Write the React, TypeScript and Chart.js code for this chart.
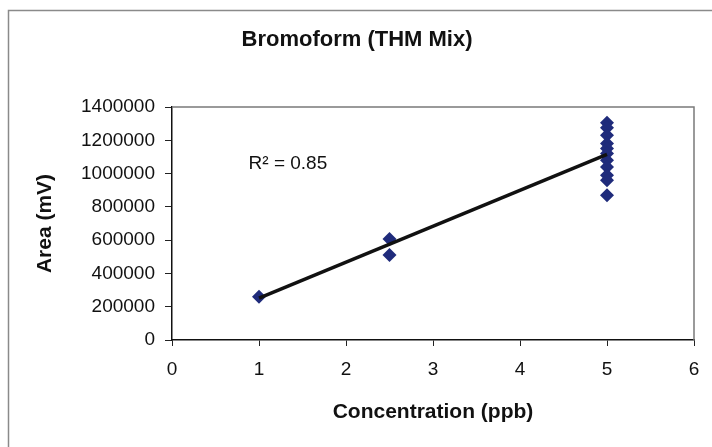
import React, { useEffect, useRef } from "react";
import { Chart, registerables } from "chart.js";

Chart.register(...registerables);

const chartTitle = "Bromoform (THM Mix)";
const xAxisTitle = "Concentration (ppb)";
const yAxisTitle = "Area (mV)";
const r2Label = "R² = 0.85";

const concentration = [1, 2.5, 2.5, 5, 5, 5, 5, 5, 5, 5, 5, 5, 5, 5];
const area = [
  260000, 607000, 510000, 1305000, 1275000, 1230000, 1180000, 1150000,
  1120000, 1080000, 1040000, 990000, 960000, 870000,
];
const trendX = [1, 5];
const trendY = [252000, 1115000];

const FONT = "'Liberation Sans', Arial, sans-serif";

export default function App() {
  const ref = useRef<HTMLCanvasElement | null>(null);

  useEffect(() => {
    if (!ref.current) return;
    const decor = {
      id: "decor",
      beforeDatasetsDraw(chart: any) {
        const { ctx, chartArea } = chart;
        ctx.save();
        ctx.strokeStyle = "#8a8a8a";
        ctx.lineWidth = 1.5;
        ctx.beginPath();
        ctx.moveTo(8.5, 447);
        ctx.lineTo(8.5, 10.5);
        ctx.lineTo(712, 10.5);
        ctx.stroke();
        ctx.strokeStyle = "#7a7a7a";
        ctx.lineWidth = 1.5;
        ctx.beginPath();
        ctx.moveTo(chartArea.left, chartArea.top);
        ctx.lineTo(chartArea.right, chartArea.top);
        ctx.lineTo(chartArea.right, chartArea.bottom);
        ctx.stroke();
        ctx.restore();
      },
      afterDraw(chart: any) {
        const { ctx, chartArea, scales } = chart;
        ctx.save();
        ctx.fillStyle = "#111";
        ctx.textAlign = "center";
        ctx.textBaseline = "middle";
        ctx.font = `bold 22px ${FONT}`;
        ctx.fillText(chartTitle, 357, 40);
        ctx.font = `bold 21px ${FONT}`;
        ctx.fillText(xAxisTitle, (chartArea.left + chartArea.right) / 2, 412);
        ctx.save();
        ctx.translate(45, (chartArea.top + chartArea.bottom) / 2);
        ctx.rotate(-Math.PI / 2);
        ctx.fillText(yAxisTitle, 0, 0);
        ctx.restore();
        ctx.font = `19px ${FONT}`;
        ctx.textAlign = "left";
        ctx.fillText(r2Label, scales.x.getPixelForValue(0.88), scales.y.getPixelForValue(1057000));
        ctx.restore();
      },
    };

    const chart = new Chart(ref.current, {
      type: "scatter",
      data: {
        datasets: [
          {
            type: "line",
            data: trendX.map((x, i) => ({ x, y: trendY[i] })),
            borderColor: "#111",
            borderWidth: 3.5,
            pointRadius: 0,
            fill: false,
          } as any,
          {
            data: concentration.map((x, i) => ({ x, y: area[i] })),
            pointStyle: "rectRot",
            pointRadius: 7,
            backgroundColor: "#1f2b7b",
            borderColor: "#1f2b7b",
            borderWidth: 0,
          },
        ],
      },
      options: {
        responsive: false,
        animation: false,
        layout: { padding: { top: 107, right: 18, left: 0, bottom: 0 } },
        plugins: { legend: { display: false }, tooltip: { enabled: false }, title: { display: false } },
        scales: {
          x: {
            type: "linear",
            min: 0,
            max: 6,
            afterFit: (s: any) => { s.height = 107; },
            ticks: { stepSize: 1, color: "#111", font: { family: FONT, size: 19 }, padding: 12, callback: (v: any) => String(v) },
            grid: { drawOnChartArea: false, tickLength: 6, color: "#222" },
            border: { color: "#111", width: 1.5 },
          },
          y: {
            min: 0,
            max: 1400000,
            afterFit: (s: any) => { s.width = 172; },
            ticks: { stepSize: 200000, color: "#111", font: { family: FONT, size: 19 }, padding: 10, callback: (v: any) => String(v) },
            grid: { drawOnChartArea: false, tickLength: 7, color: "#222" },
            border: { color: "#111", width: 1.5 },
          },
        },
      },
      plugins: [decor],
    });
    return () => chart.destroy();
  }, []);

  return (
    <div style={{ position: "fixed", left: 0, top: 0, width: 712, height: 447, background: "#fff" }}>
      <canvas ref={ref} width={712} height={447} />
    </div>
  );
}
